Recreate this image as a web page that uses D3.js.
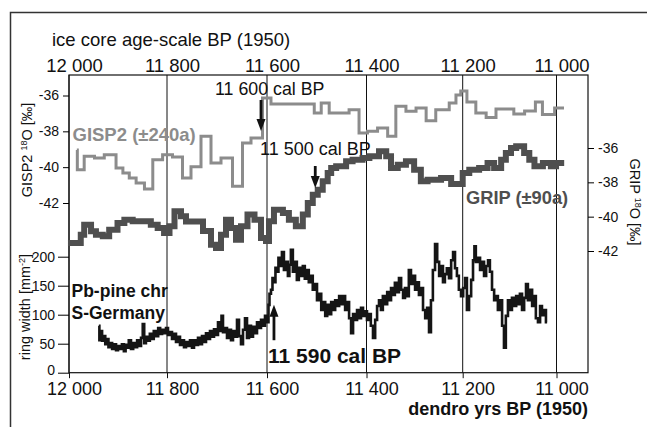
<!DOCTYPE html>
<html>
<head>
<meta charset="utf-8">
<script src="https://cdn.jsdelivr.net/npm/d3@7"></script>
<style>
  body { margin: 0; background: #fff; }
  svg { display: block; font-family: "Liberation Sans", Arial, sans-serif; }
</style>
</head>
<body>
<div id="chart"></div>
<script>
// tick values
const xTicks = [12000, 11800, 11600, 11400, 11200, 11000];
const gispTicks = [-36, -38, -40, -42];
const gripTicks = [-36, -38, -40, -42];
const ringTicks = [0, 50, 100, 150, 200];

// GISP2 d18O (step series, year = start of each step)
const gispYears = [11984, 11983, 11969, 11948, 11928, 11904, 11890, 11877, 11863, 11846,
  11829, 11809, 11789, 11769, 11752, 11732, 11712, 11692, 11669, 11649,
  11632, 11609, 11592, 11505, 11491, 11475, 11435, 11415, 11398, 11377,
  11356, 11339, 11318, 11297, 11276, 11256, 11228, 11214, 11204, 11191,
  11172, 11150, 11129, 11091, 11068, 11045, 11030, 11004, 10984];
const gispValues = [-39.04, -40.14, -39.39, -39.49, -39.30, -40.05, -40.32, -40.60, -40.88, -41.22,
  -39.58, -39.30, -39.43, -40.60, -39.97, -38.28, -39.77, -39.49, -41.07, -38.65,
  -38.37, -36.14, -36.47, -36.98, -36.42, -36.98, -36.79, -38.09, -38.00, -37.81,
  -38.28, -36.60, -36.88, -36.70, -37.41, -36.79, -36.42, -35.97, -35.75, -36.36,
  -36.98, -37.23, -36.75, -37.03, -36.86, -36.36, -37.06, -36.70, -36.70];

// GRIP d18O (step series)
const gripYears = [11996, 11976, 11969, 11955, 11945, 11931, 11918, 11901, 11887, 11870,
  11833, 11819, 11806, 11795, 11785, 11772, 11762, 11728, 11712, 11702,
  11692, 11682, 11672, 11662, 11652, 11639, 11625, 11612, 11602, 11596,
  11586, 11568, 11556, 11542, 11528, 11518, 11508, 11498, 11488, 11478,
  11471, 11461, 11441, 11428, 11408, 11394, 11374, 11359, 11349, 11335,
  11318, 11301, 11287, 11273, 11245, 11224, 11200, 11186, 11165, 11147,
  11133, 11118, 11108, 11097, 11086, 11069, 11058, 11047, 11029, 11012,
  11001, 10990];
const gripValues = [-41.53, -41.05, -40.47, -40.85, -41.05, -41.14, -40.76, -40.37, -40.18, -40.27,
  -40.47, -40.66, -40.95, -40.56, -39.69, -39.98, -40.28, -40.83, -41.63, -41.82,
  -41.05, -40.18, -40.66, -41.34, -40.56, -39.88, -40.18, -41.24, -41.42, -40.27,
  -39.59, -39.79, -40.18, -40.56, -39.88, -39.20, -38.72, -38.43, -37.94, -37.46,
  -37.16, -37.07, -36.77, -36.68, -36.58, -36.48, -36.19, -36.48, -37.16, -36.97,
  -36.77, -37.26, -37.94, -37.85, -37.75, -38.10, -37.46, -37.26, -37.16, -36.87,
  -37.16, -36.68, -36.29, -36.00, -35.90, -36.29, -36.68, -37.07, -36.87, -37.07,
  -36.87, -36.87];

// Pb-pine chronology, ring width
const ringYears = [11939, 11937, 11934, 11931, 11928, 11924, 11921, 11918, 11914, 11910,
  11906, 11902, 11898, 11894, 11890, 11886, 11883, 11880, 11876, 11871,
  11867, 11863, 11859, 11855, 11851, 11848, 11845, 11841, 11837, 11833,
  11829, 11825, 11820, 11816, 11812, 11808, 11804, 11800, 11796, 11792,
  11788, 11784, 11780, 11776, 11772, 11768, 11764, 11760, 11756, 11752,
  11748, 11744, 11740, 11736, 11732, 11728, 11724, 11720, 11716, 11712,
  11708, 11704, 11700, 11696, 11692, 11690, 11686, 11682, 11678, 11674,
  11670, 11666, 11662, 11658, 11654, 11650, 11646, 11642, 11638, 11634,
  11630, 11626, 11622, 11618, 11614, 11610, 11606, 11602, 11598, 11596,
  11594, 11590, 11588, 11584, 11582, 11578, 11576, 11572, 11568, 11564,
  11560, 11556, 11554, 11550, 11546, 11542, 11538, 11534, 11530, 11526,
  11522, 11518, 11514, 11510, 11506, 11502, 11497, 11493, 11489, 11485,
  11481, 11477, 11473, 11469, 11465, 11461, 11457, 11453, 11449, 11445,
  11441, 11437, 11433, 11429, 11425, 11421, 11417, 11413, 11409, 11405,
  11401, 11397, 11393, 11389, 11384, 11380, 11376, 11372, 11368, 11364,
  11359, 11355, 11351, 11347, 11343, 11339, 11335, 11330, 11326, 11322,
  11318, 11314, 11310, 11305, 11301, 11297, 11293, 11289, 11285, 11280,
  11276, 11272, 11268, 11264, 11260, 11255, 11251, 11247, 11243, 11239,
  11235, 11231, 11226, 11222, 11218, 11214, 11210, 11206, 11201, 11197,
  11193, 11189, 11184, 11180, 11176, 11174, 11170, 11165, 11161, 11157,
  11152, 11148, 11144, 11140, 11135, 11131, 11127, 11123, 11118, 11114,
  11110, 11106, 11101, 11097, 11093, 11088, 11084, 11080, 11076, 11071,
  11067, 11063, 11059, 11054, 11050, 11046, 11042, 11037, 11033, 11029,
  11025, 11020];
const ringValues = [81, 56, 72, 55, 63, 49, 58, 44, 51, 41,
  49, 39, 46, 41, 49, 37, 48, 43, 56, 41,
  51, 44, 56, 46, 60, 84, 51, 62, 55, 67,
  58, 72, 63, 77, 67, 74, 68, 77, 65, 70,
  58, 67, 53, 62, 48, 56, 44, 53, 46, 56,
  43, 56, 48, 60, 49, 63, 53, 68, 58, 72,
  62, 75, 65, 87, 72, 98, 70, 77, 60, 74,
  56, 72, 62, 91, 63, 49, 74, 94, 60, 81,
  62, 79, 68, 87, 77, 91, 81, 98, 87, 117,
  136, 143, 163, 156, 181, 174, 198, 184, 208, 177,
  191, 167, 186, 212, 174, 191, 160, 181, 167, 184,
  162, 177, 156, 167, 143, 153, 125, 136, 108, 122,
  98, 117, 101, 122, 108, 125, 115, 132, 118, 132,
  108, 122, 94, 68, 101, 91, 108, 94, 112, 98,
  106, 91, 101, 81, 60, 91, 115, 125, 108, 132,
  118, 139, 125, 146, 134, 155, 139, 163, 143, 129,
  146, 132, 177, 153, 167, 143, 156, 134, 146, 108,
  94, 112, 70, 125, 177, 222, 191, 167, 184, 156,
  170, 180, 163, 194, 208, 180, 167, 143, 132, 146,
  163, 108, 132, 160, 194, 218, 191, 198, 177, 191,
  167, 184, 194, 174, 143, 125, 132, 108, 125, 81,
  43, 98, 125, 108, 129, 115, 132, 118, 136, 108,
  129, 153, 125, 143, 115, 132, 94, 87, 115, 99,
  108, 87];

// arrows: year, start value, tip value (0 = GISP2, 1 = GRIP, 2 = ring width scale)
const arrowYears = [11612, 11503, 11586];
const arrowFrom = [-36.25, -37.05, 56];
const arrowTo = [-37.98, -38.33, 117];

// set the dimensions of the page and the plot box
var width = 647, height = 427;
var plotLeft = 69, plotRight = 588, plotTop = 75, plotBottom = 372.7;

var svg = d3.select("#chart").append("svg")
    .attr("width", width)
    .attr("height", height);

// the scanned time axis is slightly uneven, so map each tick separately
var x = d3.scaleLinear().domain(xTicks).range([69, 167, 267, 366.5, 462.7, 556.5]);
var gispY = d3.scaleLinear().domain([-36, -42]).range([95.5, 203]);
var gripY = d3.scaleLinear().domain([-36, -42]).range([148, 251]);
var ringY = d3.scaleLinear().domain([0, 200]).range([plotBottom, 256.7]);

var spaced = d3.formatLocale({decimal: ".", thousands: " ", grouping: [3], currency: ["", ""]}).format(",");

// outer frame of the figure
svg.append("path")
    .attr("d", "M10.5," + height + "V12.5H" + width)
    .attr("fill", "none")
    .attr("stroke", "#333")
    .attr("stroke-width", 1.5);

// vertical grid lines
svg.append("g").selectAll("line")
    .data(xTicks)
  .enter().append("line")
    .attr("x1", d => x(d)).attr("x2", d => x(d))
    .attr("y1", plotTop).attr("y2", plotBottom)
    .attr("stroke", "#111")
    .attr("stroke-width", 1);

// plot box
svg.append("rect")
    .attr("x", plotLeft).attr("y", plotTop)
    .attr("width", plotRight - plotLeft)
    .attr("height", plotBottom - plotTop)
    .attr("fill", "none")
    .attr("stroke", "#111")
    .attr("stroke-width", 1.2);

// series
var gispLine = d3.line()
    .x(d => x(d[0])).y(d => gispY(d[1]))
    .curve(d3.curveStepAfter);
var gripLine = d3.line()
    .x(d => x(d[0])).y(d => gripY(d[1]))
    .curve(d3.curveStepAfter);
var ringLine = d3.line()
    .x(d => x(d[0])).y(d => ringY(d[1]))
    .curve(d3.curveStep);

svg.append("path")
    .data([d3.zip(gispYears, gispValues)])
    .attr("d", gispLine)
    .attr("fill", "none")
    .attr("stroke", "#8c8c8c")
    .attr("stroke-width", 3);

svg.append("path")
    .data([d3.zip(gripYears, gripValues)])
    .attr("d", gripLine)
    .attr("fill", "none")
    .attr("stroke", "#4f4f4f")
    .attr("stroke-width", 6)
    .attr("stroke-linecap", "square");

svg.append("path")
    .data([d3.zip(ringYears, ringValues)])
    .attr("d", ringLine)
    .attr("fill", "none")
    .attr("stroke", "#151515")
    .attr("stroke-width", 2.6);

// arrows
var arrowScales = [gispY, gripY, ringY];
arrowYears.forEach((yr, i) => {
  let ax = x(yr), y0 = arrowScales[i](arrowFrom[i]), y1 = arrowScales[i](arrowTo[i]);
  let dir = y1 > y0 ? 1 : -1;
  svg.append("line")
      .attr("x1", ax).attr("x2", ax)
      .attr("y1", y0).attr("y2", y1 - dir * 10)
      .attr("stroke", "#111")
      .attr("stroke-width", 2.8);
  svg.append("path")
      .attr("d", "M" + (ax - 4.5) + "," + (y1 - dir * 12) + "L" + (ax + 4.5) + "," + (y1 - dir * 12) + "L" + ax + "," + y1 + "Z")
      .attr("fill", "#111");
});

// axes
var axisFont = (g, size) => g.selectAll("text")
    .style("font-family", "'Liberation Sans', Arial, sans-serif")
    .style("font-size", size + "px")
    .attr("fill", "#111");

var bottomAxis = svg.append("g")
    .attr("transform", "translate(0," + plotBottom + ")")
    .call(d3.axisBottom(x).tickValues(xTicks).tickFormat(spaced).tickSize(5.5).tickPadding(4));
bottomAxis.select(".domain").remove();
bottomAxis.selectAll("line").attr("stroke", "#111");
axisFont(bottomAxis, 18);
bottomAxis.selectAll("text").attr("dx", 5);

var topAxis = svg.append("g")
    .attr("transform", "translate(0," + plotTop + ")")
    .call(d3.axisTop(x).tickValues(xTicks).tickFormat(spaced).tickSize(0).tickPadding(3.5));
topAxis.select(".domain").remove();
axisFont(topAxis, 18.5);
topAxis.selectAll("text").attr("dx", 5);

var gispAxis = svg.append("g")
    .attr("transform", "translate(" + plotLeft + ",0)")
    .call(d3.axisLeft(gispY).tickValues(gispTicks).tickFormat(d => String(d)).tickSize(6).tickPadding(4));
gispAxis.select(".domain").remove();
axisFont(gispAxis, 14);

var ringAxis = svg.append("g")
    .attr("transform", "translate(" + plotLeft + ",0)")
    .call(d3.axisLeft(ringY).tickValues(ringTicks).tickSize(11).tickPadding(3));
ringAxis.select(".domain").remove();
axisFont(ringAxis, 14);
// lift the "0" a little so it clears the year labels below
ringAxis.selectAll("text").filter(d => d === 0).attr("dy", "0.12em");

var gripAxis = svg.append("g")
    .attr("transform", "translate(" + plotRight + ",0)")
    .call(d3.axisRight(gripY).tickValues(gripTicks).tickFormat(d => String(d)).tickSize(6).tickPadding(4));
gripAxis.select(".domain").remove();
axisFont(gripAxis, 14);

// axis titles
svg.append("text")
    .attr("x", 52).attr("y", 46)
    .style("font-size", "18.5px")
    .attr("fill", "#111")
    .text("ice core age-scale BP (1950)");

svg.append("text")
    .attr("x", plotRight).attr("y", 415)
    .attr("text-anchor", "end")
    .style("font-size", "18px")
    .style("font-weight", "bold")
    .attr("fill", "#111")
    .text("dendro yrs BP (1950)");

var gispTitle = svg.append("text")
    .attr("transform", "translate(32,150) rotate(-90)")
    .attr("text-anchor", "middle")
    .style("font-size", "14.5px")
    .attr("fill", "#111");
gispTitle.append("tspan").text("GISP2 ");
gispTitle.append("tspan").attr("dy", -5).style("font-size", "9px").text("18");
gispTitle.append("tspan").attr("dy", 5).text("O [‰]");

var gripTitle = svg.append("text")
    .attr("transform", "translate(630,202) rotate(90)")
    .attr("text-anchor", "middle")
    .style("font-size", "14.5px")
    .attr("fill", "#111");
gripTitle.append("tspan").text("GRIP ");
gripTitle.append("tspan").attr("dy", -5).style("font-size", "9px").text("18");
gripTitle.append("tspan").attr("dy", 5).text("O [‰]");

var ringTitle = svg.append("text")
    .attr("transform", "translate(30,307) rotate(-90)")
    .attr("text-anchor", "middle")
    .style("font-size", "14.5px")
    .attr("fill", "#111");
ringTitle.append("tspan").text("ring width [mm");
ringTitle.append("tspan").attr("dy", -5).style("font-size", "9px").text("-2");
ringTitle.append("tspan").attr("dy", 5).text("]");

// series labels and dates
const labels = [
  {text: "GISP2 (±240a)", x: 72.5, y: 141, size: 18.5, bold: true, color: "#8c8c8c"},
  {text: "GRIP (±90a)", x: 466, y: 204, size: 18.3, bold: true, color: "#4f4f4f"},
  {text: "Pb-pine chr", x: 71.5, y: 297, size: 17.5, bold: true, color: "#111"},
  {text: "S-Germany", x: 71.5, y: 318.5, size: 17.5, bold: true, color: "#111"},
  {text: "11 590 cal BP", x: 268, y: 363, size: 21, bold: true, color: "#111"},
  {text: "11 600 cal BP", x: 215, y: 95, size: 17.8, bold: false, color: "#111"},
  {text: "11 500 cal BP", x: 260, y: 155, size: 18, bold: false, color: "#111"}
];
svg.append("g").selectAll("text")
    .data(labels)
  .enter().append("text")
    .attr("x", d => d.x).attr("y", d => d.y)
    .style("font-size", d => d.size + "px")
    .style("font-weight", d => d.bold ? "bold" : "normal")
    .attr("fill", d => d.color)
    .text(d => d.text);
</script>
</body>
</html>
